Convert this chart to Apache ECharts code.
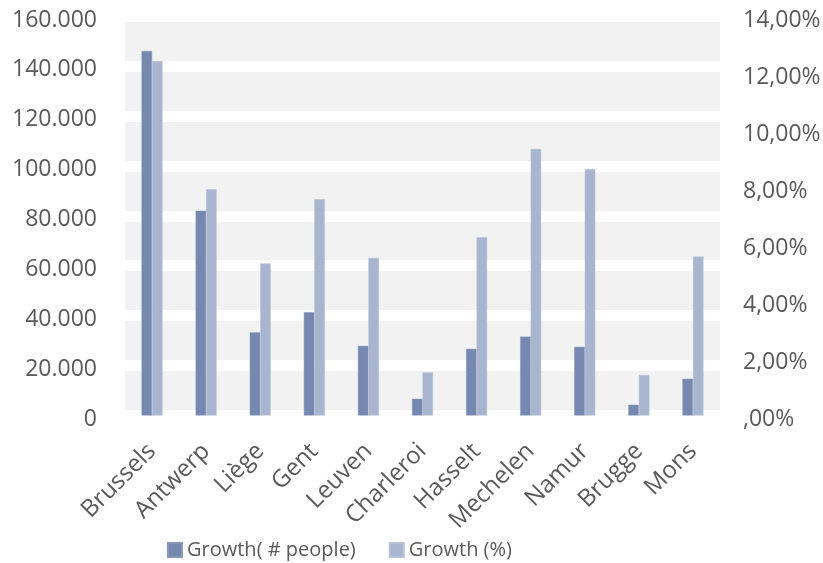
<!DOCTYPE html>
<html>
<head>
<meta charset="utf-8">
<script src="https://cdn.jsdelivr.net/npm/echarts@6/dist/echarts.min.js"></script>
<style>
  html, body { margin: 0; padding: 0; background: #fff; }
  #chart { width: 823px; height: 563px; }
</style>
</head>
<body>
<div id="chart"></div>
<script>
// categories (cities)
var cities = ["Brussels", "Antwerp", "Liège", "Gent", "Leuven", "Charleroi",
              "Hasselt", "Mechelen", "Namur", "Brugge", "Mons"];
// growth in number of people
var growthPeople = [146000, 82000, 33300, 41400, 27900, 6700, 26700, 31600, 27500, 4300, 14700];
// growth in percent
var growthPct = [12.42, 7.93, 5.33, 7.58, 5.52, 1.51, 6.25, 9.34, 8.64, 1.42, 5.57];

var txt = "#595959";
var font = "Open Sans";

// labels sit a few px below the gridline, like the 3D excel original
function fmtThousands(v) {
    return "{t|" + String(v).replace(/\B(?=(\d{3})+(?!\d))/g, ".") + "}";
}
function fmtPct(v) {
    var s = v === 0 ? ",00%" : v.toFixed(2).replace(".", ",") + "%";
    return "{t|" + s + "}";
}
var richT = { t: { fontFamily: font, fontSize: 23, color: txt, padding: [8, 0, 0, 0] } };

var myChart = echarts.init(document.getElementById("chart"));
myChart.setOption({
    animation: false,
    textStyle: { fontFamily: font, color: txt },
    grid: {
        left: 125, right: 103, top: 16, bottom: 147.5,
        containLabel: false, outerBoundsMode: "none",
        show: true, backgroundColor: "#f2f2f2", borderWidth: 0
    },
    legend: {
        left: 162, top: 535,
        itemWidth: 14, itemHeight: 14, itemGap: 33,
        icon: "rect",
        textStyle: { fontFamily: font, fontSize: 20, color: txt },
        data: ["Growth( # people)", "Growth (%)"]
    },
    xAxis: {
        type: "category",
        data: cities,
        axisLine: { show: false },
        axisTick: { show: false },
        axisLabel: {
            rotate: 45, interval: 0, margin: 32,
            fontFamily: font, fontSize: 24, color: txt
        }
    },
    yAxis: [{
        type: "value", min: 0, max: 160000, interval: 20000,
        axisLine: { show: false }, axisTick: { show: false },
        splitLine: { show: true, lineStyle: { color: "#ffffff", width: 11 } },
        axisLabel: {
            margin: 28, fontFamily: font, fontSize: 23, color: txt,
            formatter: fmtThousands, rich: richT
        }
    }, {
        type: "value", min: 0, max: 14, interval: 2,
        axisLine: { show: false }, axisTick: { show: false },
        splitLine: { show: false },
        axisLabel: {
            margin: 23, fontFamily: font, fontSize: 23, color: txt,
            formatter: fmtPct, rich: richT
        }
    }],
    series: [{
        name: "Growth( # people)",
        type: "bar",
        yAxisIndex: 0,
        barWidth: 10.5,
        barGap: "0%",
        itemStyle: { color: "#7688af", borderColor: "#8797bb", borderWidth: 0.5 },
        data: growthPeople
    }, {
        name: "Growth (%)",
        type: "bar",
        yAxisIndex: 1,
        barWidth: 10.5,
        barGap: "0%",
        itemStyle: { color: "#a9b5ce", borderColor: "#b6c0d6", borderWidth: 0.5 },
        data: growthPct
    }]
});
</script>
</body>
</html>
